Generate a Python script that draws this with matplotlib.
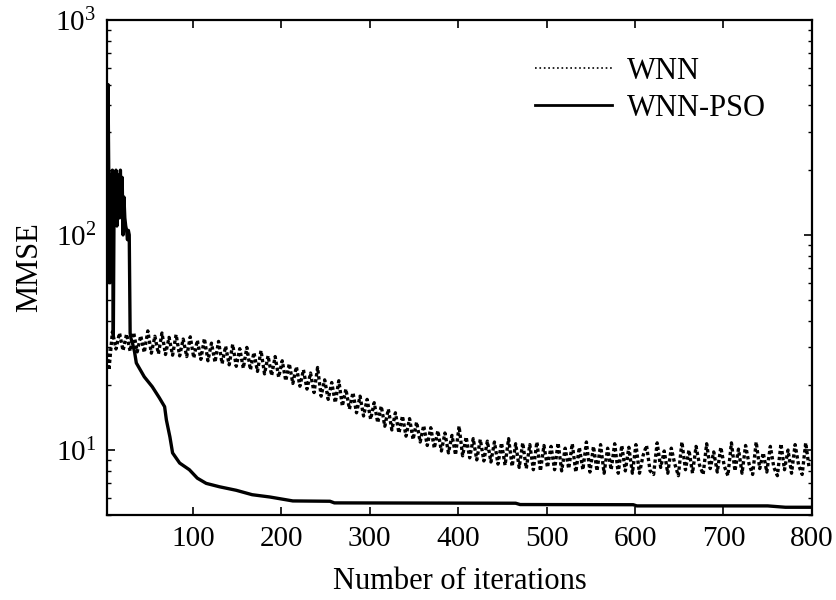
import numpy as np
import matplotlib
matplotlib.use('Agg')
import matplotlib.pyplot as plt

plt.rcParams['font.family'] = 'Liberation Serif'
plt.rcParams['mathtext.fontset'] = 'custom'
plt.rcParams['mathtext.rm'] = 'Liberation Serif'
plt.rcParams['mathtext.it'] = 'Liberation Serif:italic'

# --- data ---
# WNN (dotted), sampled every 4 iterations
wnn_iter = np.arange(1, 800, 4)
wnn_mmse = [
    34.0, 23.5, 35.5, 29.5, 35.0, 29.0, 34.6, 28.8, 35.2, 28.6,
    34.0, 28.4, 35.8, 28.2, 33.8, 28.0, 35.0, 27.8, 33.4, 27.6,
    34.4, 27.4, 32.8, 27.2, 33.6,
    26.8, 32.4, 26.4, 33.0, 26.0, 31.4, 25.6, 32.0, 25.2, 30.4,
    24.9, 31.0, 24.5, 29.6, 24.0, 30.0, 23.6, 28.4, 23.2, 29.0,
    22.6, 27.4, 22.2, 27.2, 21.8,
    26.0, 21.0, 25.2, 20.4, 24.4, 19.8, 23.6, 19.2, 22.8, 18.5,
    24.2, 17.8, 21.2, 17.2, 20.6, 16.6, 21.0, 16.0, 19.2, 15.5,
    18.5, 14.9, 17.8, 14.4, 17.2,
    13.9, 16.6, 13.4, 16.0, 12.9, 15.5, 12.4, 14.9, 12.0, 14.4,
    11.6, 14.0, 11.2, 13.5, 10.9, 13.0, 10.5, 12.7, 10.2, 12.3,
    9.9, 12.0, 9.7, 11.7, 9.5,
    12.9, 9.4, 11.5, 9.2, 11.3, 9.0, 11.2, 8.9, 11.0, 8.8,
    10.9, 8.6, 10.8, 8.5, 11.3, 8.4, 10.7, 8.3, 10.8, 8.2,
    10.6, 8.1, 10.9, 8.0, 10.5,
    8.3, 10.4, 8.1, 10.8, 8.0, 10.2, 8.2, 10.7, 7.9, 10.3,
    8.1, 10.9, 7.9, 10.4, 8.0, 10.6, 7.8, 10.2, 8.1, 10.7,
    7.8, 10.5, 8.0, 10.3, 7.8,
    10.6, 7.8, 9.4, 10.5, 8.0, 7.7, 10.8, 8.3, 9.9, 7.8,
    10.2, 8.6, 7.6, 10.9, 8.1, 10.0, 7.8, 10.4, 8.5, 7.7,
    10.7, 8.2, 9.8, 7.9, 10.3, 8.4, 7.6, 10.8, 8.0, 10.1,
    7.8, 10.5, 8.6, 7.7, 10.9, 8.2, 9.7, 7.9, 10.4, 8.3,
    7.6, 10.7, 8.1, 10.0, 7.8, 10.6, 8.5, 7.7, 10.8, 8.2,
]

# WNN-PSO (solid)
pso_iter = [1, 2, 3, 4, 5, 6, 7, 8, 9, 10, 11, 12, 13, 14, 15, 16, 17,
            18, 19, 20, 21, 22, 23, 24, 25, 26, 27, 28, 29, 30, 31, 32,
            34, 36, 45, 54, 62, 68, 70, 74, 77, 85, 96, 105, 115, 130,
            149, 167, 187, 213, 255, 260, 465, 470, 598, 602, 750, 770, 800]
pso_mmse = [35, 120, 210, 500, 160, 60, 190, 90, 200, 34, 180, 150, 200,
            110, 190, 170, 120, 200, 140, 185, 100, 150, 120, 110, 105,
            95, 105, 100, 35, 33, 32, 31,
            28.6, 25.4, 21.9, 19.7, 17.5, 15.9, 13.8, 11.5, 9.7, 8.7,
            8.1, 7.4, 7.0, 6.75, 6.5, 6.2, 6.05, 5.8, 5.78, 5.68, 5.66,
            5.58, 5.57, 5.5, 5.5, 5.42, 5.42]

x_ticks = [100, 200, 300, 400, 500, 600, 700, 800]

fig = plt.figure(figsize=(8.37, 6.0), dpi=100)
ax = fig.add_axes([0.128, 0.142, 0.842, 0.825])

ax.plot(wnn_iter, wnn_mmse, color='black', linestyle=(0, (1, 0.8)),
        linewidth=2.4, label='WNN')
ax.plot(pso_iter, pso_mmse, color='black', linestyle='-', linewidth=2.4,
        label='WNN-PSO')

ax.set_yscale('log')
ax.set_xlim(3, 800)
ax.set_ylim(5, 1000)
ax.set_xticks(x_ticks)
ax.set_xticklabels([str(t) for t in x_ticks])

ax.tick_params(which='both', direction='in', top=True, right=True, labelsize=21)
ax.tick_params(which='major', length=6, width=1.2, pad=8)
ax.tick_params(which='minor', length=3, width=1.0)
ax.tick_params(axis='x', which='minor', bottom=False, top=False)
for sp in ax.spines.values():
    sp.set_linewidth(1.6)

ax.set_xlabel('Number of iterations', fontsize=22, labelpad=11)
ax.set_ylabel('MMSE', fontsize=22, labelpad=8)

leg = ax.legend(loc='upper right', bbox_to_anchor=(0.952, 0.95), frameon=False,
                fontsize=22, handlelength=2.5, handletextpad=0.5,
                labelspacing=0.27, borderaxespad=0)
leg.get_lines()[0].set_linewidth(1.2)
leg.get_lines()[0].set_linestyle(':')
leg.get_lines()[1].set_linewidth(2.0)

fig.savefig('out.png', dpi=100)
